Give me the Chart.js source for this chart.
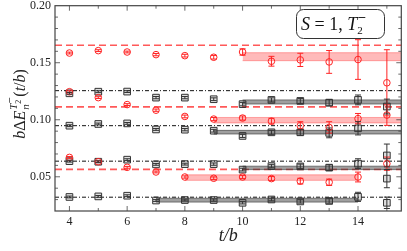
<!DOCTYPE html>
<html>
<head>
<meta charset="utf-8">
<script src="https://cdn.jsdelivr.net/npm/chart.js@4.4.0/dist/chart.umd.min.js"></script>
<style>
html, body { margin: 0; padding: 0; background: #fff; }
canvas { display: block; }
</style>
</head>
<body>
<canvas id="plot" width="407" height="251"></canvas>
<script>
// time slices
var tValues = [4, 5, 6, 7, 8, 9, 10, 11, 12, 13, 14, 15];

// red circles (three levels)
var red1Values = [0.1585, 0.1606, 0.1594, 0.1571, 0.1562, 0.1548, 0.1594, 0.1513, 0.1525, 0.1507, 0.1528, 0.1324];
var red1Errors = [0.0008, 0.0008, 0.0008, 0.0010, 0.0012, 0.0016, 0.0028, 0.0043, 0.0058, 0.0100, 0.0174, 0.0290];
var red2Values = [0.1246, 0.1194, 0.1133, 0.1084, 0.1029, 0.1006, 0.1015, 0.0988, 0.0948, 0.0933, 0.1010, 0.1041];
var red2Errors = [0.0008, 0.0008, 0.0008, 0.0010, 0.0012, 0.0014, 0.0018, 0.0025, 0.0035, 0.0050, 0.0045, 0.0090];
var red3Values = [0.0670, 0.0632, 0.0583, 0.0542, 0.0498, 0.0487, 0.0498, 0.0484, 0.0462, 0.0452, 0.0498, 0.0615];
var red3Errors = [0.0008, 0.0008, 0.0008, 0.0008, 0.0010, 0.0012, 0.0014, 0.0018, 0.0025, 0.0028, 0.0043, 0.0058];

// black squares (four levels)
var black1Values = [0.1232, 0.1246, 0.1247, 0.1194, 0.1194, 0.1180, 0.1137, 0.1174, 0.1165, 0.1150, 0.1174, 0.1116];
var black1Errors = [0.0008, 0.0008, 0.0008, 0.0010, 0.0010, 0.0012, 0.0015, 0.0018, 0.0022, 0.0028, 0.0043, 0.0065];
var black2Values = [0.0948, 0.0963, 0.0968, 0.0915, 0.0913, 0.0904, 0.0858, 0.0890, 0.0890, 0.0885, 0.0925, 0.0687];
var black2Errors = [0.0008, 0.0008, 0.0008, 0.0008, 0.0010, 0.0012, 0.0014, 0.0018, 0.0025, 0.0043, 0.0058, 0.0100];
var black3Values = [0.0637, 0.0632, 0.0650, 0.0609, 0.0611, 0.0611, 0.0563, 0.0594, 0.0591, 0.0580, 0.0615, 0.0484];
var black3Errors = [0.0008, 0.0008, 0.0008, 0.0008, 0.0008, 0.0010, 0.0012, 0.0015, 0.0020, 0.0025, 0.0043, 0.0080];
var black4Values = [0.0323, 0.0328, 0.0334, 0.0292, 0.0296, 0.0296, 0.0272, 0.0301, 0.0284, 0.0288, 0.0324, 0.0272];
var black4Errors = [0.0008, 0.0008, 0.0008, 0.0008, 0.0008, 0.0010, 0.0010, 0.0012, 0.0015, 0.0020, 0.0040, 0.0050];

// fit bands: red1, black1, red2, black2, black3, red3, black4
var bandCenters = [0.1553, 0.1156, 0.0996, 0.0891, 0.0578, 0.0493, 0.0295];
var bandHalfWidths = [0.0035, 0.0018, 0.0024, 0.0016, 0.0015, 0.0024, 0.0017];
var bandStarts = [10, 10, 9, 9, 10, 8, 7];
var bandEnds = [15.5, 15.5, 15.5, 15.5, 15.5, 14, 14];

// reference levels
var redLevels = [0.1653, 0.1113, 0.0565];
var blackLevels = [0.1255, 0.0948, 0.0637, 0.0321];

var xTicks = [4, 6, 8, 10, 12, 14];
var yTicks = [0.05, 0.10, 0.15, 0.20];
var xRange = [3.5, 15.5];
var yRange = [0.02, 0.20];

var RED = 'rgb(255,35,35)';
var DARK = '#333';
var SERIF = '"Liberation Serif", "DejaVu Serif", serif';
var SANS = '"DejaVu Sans", sans-serif';

var toPoints = function(vals) {
	return tValues.map(function(t, i) { return { x: t, y: vals[i] }; });
};

var pointSets = [
	{ vals: red1Values, errs: red1Errors, red: true },
	{ vals: red2Values, errs: red2Errors, red: true },
	{ vals: red3Values, errs: red3Errors, red: true },
	{ vals: black1Values, errs: black1Errors, red: false },
	{ vals: black2Values, errs: black2Errors, red: false },
	{ vals: black3Values, errs: black3Errors, red: false },
	{ vals: black4Values, errs: black4Errors, red: false }
];
var bandIsRed = [true, false, true, false, false, true, false];

var datasets = [];
pointSets.forEach(function(s) {
	datasets.push({
		data: toPoints(s.vals),
		errors: s.errs,
		errColor: s.red ? RED : DARK,
		pointStyle: s.red ? 'circle' : 'rect',
		pointRadius: s.red ? 3.3 : 4.7,
		pointBorderWidth: 1,
		pointBorderColor: s.red ? RED : DARK,
		pointBackgroundColor: s.red ? 'rgba(255,255,255,0)' : 'rgba(0,0,0,0.12)',
		showLine: false
	});
});

bandCenters.forEach(function(c, i) {
	var h = bandHalfWidths[i];
	var red = bandIsRed[i];
	var edge = red ? 'rgba(255,70,70,0.55)' : 'rgba(50,50,50,0.75)';
	var lowIdx = datasets.length;
	datasets.push({
		data: [{ x: bandStarts[i], y: c - h }, { x: bandEnds[i], y: c - h }],
		showLine: true, pointRadius: 0, borderWidth: 0.8, borderColor: edge, fill: false
	});
	datasets.push({
		data: [{ x: bandStarts[i], y: c + h }, { x: bandEnds[i], y: c + h }],
		showLine: true, pointRadius: 0, borderWidth: 0.8, borderColor: edge,
		fill: lowIdx,
		backgroundColor: red ? 'rgba(255,90,90,0.42)' : 'rgba(100,100,100,0.62)'
	});
});

redLevels.forEach(function(v) {
	datasets.push({
		data: [{ x: xRange[0], y: v }, { x: xRange[1], y: v }],
		showLine: true, pointRadius: 0, borderWidth: 1.6,
		borderColor: 'rgba(255,60,60,0.85)', borderDash: [7, 4], fill: false
	});
});
blackLevels.forEach(function(v) {
	datasets.push({
		data: [{ x: xRange[0], y: v }, { x: xRange[1], y: v }],
		showLine: true, pointRadius: 0, borderWidth: 1,
		borderColor: '#111', borderDash: [4, 2, 1, 2], fill: false
	});
});

// error bars with caps
var errorBars = {
	id: 'errorBars',
	afterDatasetsDraw: function(chart) {
		var ctx = chart.ctx, ys = chart.scales.y;
		ctx.save();
		chart.data.datasets.forEach(function(ds, di) {
			if (!ds.errors) return;
			var meta = chart.getDatasetMeta(di);
			ctx.strokeStyle = ds.errColor;
			ctx.lineWidth = 1;
			meta.data.forEach(function(el, i) {
				var v = ds.data[i].y, e = ds.errors[i];
				var top = ys.getPixelForValue(v + e), bot = ys.getPixelForValue(v - e);
				ctx.beginPath();
				ctx.moveTo(el.x, top); ctx.lineTo(el.x, bot);
				ctx.moveTo(el.x - 3, top); ctx.lineTo(el.x + 3, top);
				ctx.moveTo(el.x - 3, bot); ctx.lineTo(el.x + 3, bot);
				ctx.stroke();
			});
		});
		ctx.restore();
	}
};

// frame, inward ticks, rotated y label and the state box
var decorations = {
	id: 'decorations',
	afterDraw: function(chart) {
		var ctx = chart.ctx, a = chart.chartArea;
		var xs = chart.scales.x, ys = chart.scales.y;
		ctx.save();
		ctx.strokeStyle = '#444';
		ctx.lineWidth = 1.2;
		ctx.strokeRect(a.left, a.top, a.right - a.left, a.bottom - a.top);
		ctx.lineWidth = 0.8;
		ctx.beginPath();
		for (var t = 4; t <= 15; t++) {
			var px = xs.getPixelForValue(t);
			var len = (t % 2 === 0) ? 5 : 3;
			ctx.moveTo(px, a.bottom); ctx.lineTo(px, a.bottom - len);
			ctx.moveTo(px, a.top); ctx.lineTo(px, a.top + len);
		}
		for (var k = 3; k <= 19; k++) {
			var py = ys.getPixelForValue(k / 100);
			var l2 = (k % 5 === 0) ? 5 : 3;
			ctx.moveTo(a.left, py); ctx.lineTo(a.left + l2, py);
			ctx.moveTo(a.right, py); ctx.lineTo(a.right - l2, py);
		}
		ctx.stroke();

		var x = 0;
		var dry = false;
		var put = function(txt, font, dy) {
			ctx.font = font;
			if (!dry) ctx.fillText(txt, x, dy);
			return ctx.measureText(txt).width;
		};
		// y label: b ΔE_n^{T_2^-}(t/b)
		var yLabel = function() {
			x += put('b', 'italic 16px ' + SERIF, 0);
			x += put('Δ', '16px ' + SERIF, 0);
			x += put('E', 'italic 16px ' + SERIF, 0) + 1;
			put('n', 'italic 11px ' + SERIF, 4);
			x += put('T', 'italic 11px ' + SERIF, -8);
			var sub2 = put('2', '8px ' + SERIF, -4);
			put('−', '8px ' + SANS, -13);
			x += sub2 + 3;
			x += put('(', '16px ' + SERIF, 0);
			x += put('t', 'italic 16px ' + SERIF, 0);
			x += put('/', '16px ' + SERIF, 0);
			x += put('b', 'italic 16px ' + SERIF, 0);
			x += put(')', '16px ' + SERIF, 0);
		};
		dry = true; x = 0; yLabel();
		var total = x;
		dry = false;
		ctx.fillStyle = '#222';
		ctx.translate(25, 104);
		ctx.rotate(-Math.PI / 2);
		x = -total / 2;
		yLabel();
		ctx.setTransform(1, 0, 0, 1, 0, 0);

		// state box
		ctx.fillStyle = '#fff';
		ctx.strokeStyle = '#333';
		ctx.lineWidth = 1;
		ctx.beginPath();
		ctx.roundRect(296.5, 9.5, 88, 29, 7);
		ctx.fill();
		ctx.stroke();
		ctx.fillStyle = '#111';
		x = 301;
		var by = 30;
		x += put('S', 'italic 18px ' + SERIF, by);
		x += put(' = 1, ', '18px ' + SERIF, by);
		x += put('T', 'italic 18px ' + SERIF, by);
		put('2', '11px ' + SERIF, by + 4);
		put('−', '11px ' + SANS, by - 9);
		ctx.restore();
	}
};

new Chart(document.getElementById('plot'), {
	type: 'scatter',
	data: { datasets: datasets },
	options: {
		responsive: false,
		animation: false,
		layout: { padding: { left: 0, right: 5, top: 4, bottom: 0 } },
		plugins: { legend: { display: false }, tooltip: { enabled: false } },
		scales: {
			x: {
				type: 'linear', min: xRange[0], max: xRange[1],
				grid: { display: false, drawTicks: false },
				border: { display: false },
				afterBuildTicks: function(s) { s.ticks = xTicks.map(function(v) { return { value: v }; }); },
				afterFit: function(s) { s.height = 40; s.paddingLeft = 0; s.paddingRight = 0; },
				ticks: { padding: 4, color: '#222', font: { family: SERIF, size: 12 } },
				title: { display: true, text: 't/b', color: '#222', padding: 4,
					font: { family: SERIF, size: 18, style: 'italic' } }
			},
			y: {
				type: 'linear', min: yRange[0], max: yRange[1],
				grid: { display: false, drawTicks: false },
				border: { display: false },
				afterBuildTicks: function(s) { s.ticks = yTicks.map(function(v) { return { value: v }; }); },
				afterFit: function(s) { s.width = 55; s.paddingTop = 0; s.paddingBottom = 0; },
				ticks: { padding: 4, color: '#222', font: { family: SERIF, size: 12 },
					callback: function(v) { return v.toFixed(2); } }
			}
		}
	},
	plugins: [errorBars, decorations]
});
</script>
</body>
</html>
